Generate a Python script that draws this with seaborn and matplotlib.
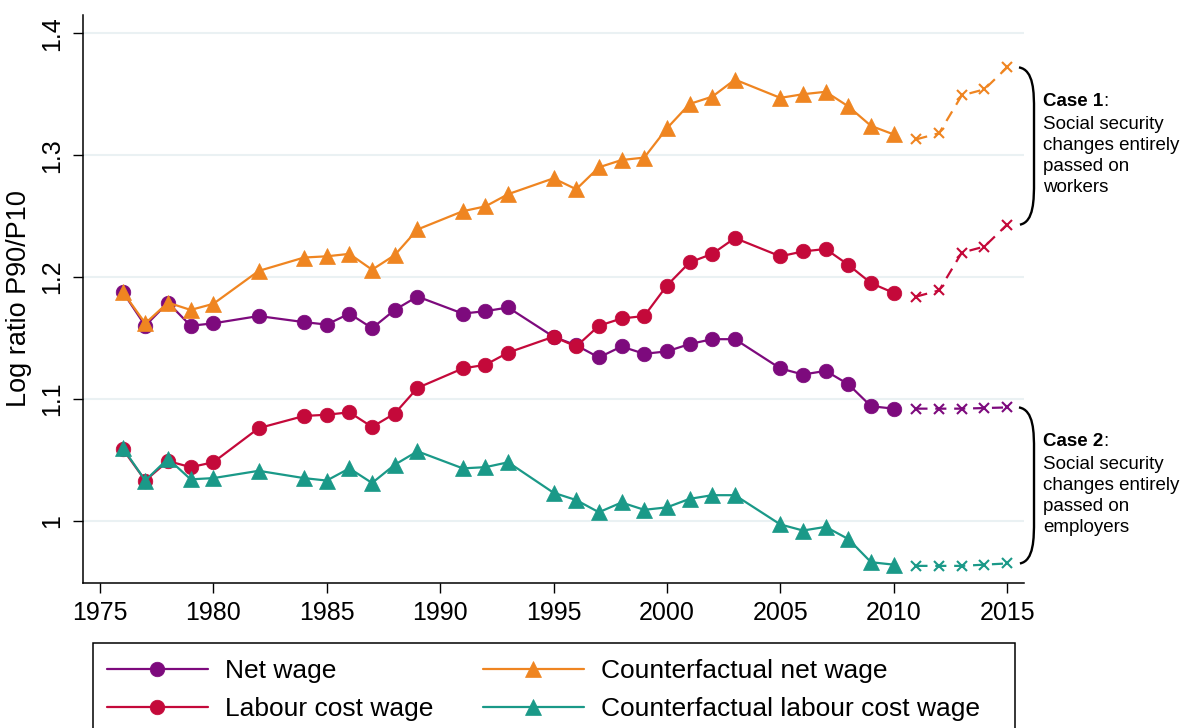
import numpy as np
import pandas as pd
import matplotlib
matplotlib.use('Agg')
import matplotlib.pyplot as plt
import seaborn as sns
from matplotlib.path import Path
from matplotlib.patches import PathPatch, Rectangle
from matplotlib.transforms import blended_transform_factory

# Observed years and projected years
years = [1976, 1977, 1978, 1979, 1980, 1982, 1984, 1985, 1986, 1987, 1988, 1989,
         1991, 1992, 1993, 1995, 1996, 1997, 1998, 1999, 2000, 2001, 2002, 2003,
         2005, 2006, 2007, 2008, 2009, 2010]
proj_years = [2011, 2012, 2013, 2014, 2015]

# Log ratio P90/P10
net_wage = [1.188, 1.160, 1.179, 1.160, 1.162, 1.168, 1.163, 1.161, 1.170, 1.158,
            1.173, 1.184, 1.170, 1.172, 1.175, 1.151, 1.144, 1.134, 1.143, 1.137,
            1.139, 1.145, 1.149, 1.149, 1.125, 1.120, 1.123, 1.112, 1.094, 1.092]
labour_cost = [1.059, 1.033, 1.049, 1.044, 1.048, 1.076, 1.086, 1.087, 1.089, 1.077,
               1.088, 1.109, 1.125, 1.128, 1.138, 1.151, 1.143, 1.160, 1.166, 1.168,
               1.193, 1.212, 1.219, 1.232, 1.217, 1.221, 1.223, 1.210, 1.195, 1.187]
cf_net = [1.188, 1.162, 1.179, 1.173, 1.178, 1.205, 1.216, 1.217, 1.219, 1.206,
          1.218, 1.239, 1.254, 1.258, 1.268, 1.281, 1.272, 1.290, 1.296, 1.298,
          1.322, 1.342, 1.348, 1.362, 1.347, 1.350, 1.352, 1.340, 1.324, 1.317]
cf_labour = [1.060, 1.033, 1.051, 1.034, 1.035, 1.041, 1.035, 1.033, 1.043, 1.031,
             1.046, 1.057, 1.043, 1.044, 1.048, 1.023, 1.017, 1.007, 1.015, 1.009,
             1.011, 1.018, 1.021, 1.021, 0.997, 0.992, 0.995, 0.985, 0.966, 0.964]

# Projections 2011-2015
net_proj = [1.092, 1.092, 1.092, 1.0925, 1.093]
labour_proj = [1.184, 1.189, 1.220, 1.225, 1.243]
cf_net_proj = [1.313, 1.318, 1.349, 1.354, 1.372]
cf_labour_proj = [0.963, 0.963, 0.963, 0.964, 0.965]

labels = ['Net wage', 'Labour cost wage', 'Counterfactual net wage',
          'Counterfactual labour cost wage']
colors = ['#7d0a7d', '#c4093a', '#ef8521', '#1a9988']
markers = ['o', 'o', '^', '^']

sns.set_style('white')
plt.rcParams['font.family'] = ['Liberation Sans', 'DejaVu Sans']
plt.rcParams['text.color'] = 'black'
plt.rcParams['axes.labelcolor'] = 'black'

fig = plt.figure(figsize=(11.91, 7.28), dpi=100)
ax = fig.add_axes([0.070, 0.1996, 0.7895, 0.7798])

series = [net_wage, labour_cost, cf_net, cf_labour]
projections = [net_proj, labour_proj, cf_net_proj, cf_labour_proj]

for i in range(4):
    sns.lineplot(x=years, y=series[i], ax=ax, color=colors[i], marker=markers[i],
                 markersize=10.5 if markers[i] == 'o' else 12,
                 markeredgecolor=colors[i], markeredgewidth=0.5,
                 linewidth=1.6, label=labels[i], zorder=3 + i, legend=False)
    sns.lineplot(x=proj_years, y=projections[i], ax=ax, color=colors[i], marker='x',
                 markersize=6.5, markeredgecolor=colors[i], markeredgewidth=1.5,
                 linewidth=1.6, linestyle=(0, (5, 3.5)), zorder=3 + i, legend=False)

ax.set_xlim(1974.27, 2015.73)
ax.set_ylim(0.9492, 1.415)
ax.set_xticks([1975, 1980, 1985, 1990, 1995, 2000, 2005, 2010, 2015])
ax.set_yticks([1.0, 1.1, 1.2, 1.3, 1.4])
ax.set_yticklabels(['1', '1.1', '1.2', '1.3', '1.4'], rotation=90, va='center')
ax.tick_params(axis='both', which='major', direction='out', length=7.5, width=1,
               labelsize=18, pad=6, left=True, bottom=True, colors='black')
ax.yaxis.grid(True, color='#eaf1f3', linewidth=1.5)
ax.xaxis.grid(False)
for side in ['top', 'right']:
    ax.spines[side].set_visible(False)
for side in ['left', 'bottom']:
    ax.spines[side].set_color('black')
    ax.spines[side].set_linewidth(1.1)
ax.set_ylabel('Log ratio P90/P10', fontsize=19.5, labelpad=6)
ax.set_xlabel('')

# Braces and annotations for the two cases
trans = blended_transform_factory(ax.transAxes, ax.transData)
note_font = ['Liberation Sans Narrow', 'Liberation Sans']
cases = [(cf_net_proj[-1], labour_proj[-1], 'Case 1', 'workers'),
         (net_proj[-1], cf_labour_proj[-1], 'Case 2', 'employers')]
for ytop, ybot, title, who in cases:
    x0, x1, d = 0.995, 1.011, 0.035
    verts = [(x0, ytop), (x1, ytop - 0.002), (x1, ytop - d * 0.6), (x1, ytop - d),
             (x1, ybot + d),
             (x1, ybot + d * 0.6), (x1, ybot + 0.002), (x0 + 0.001, ybot)]
    codes = [Path.MOVETO, Path.CURVE4, Path.CURVE4, Path.CURVE4, Path.LINETO,
             Path.CURVE4, Path.CURVE4, Path.CURVE4]
    ax.add_patch(PathPatch(Path(verts, codes), transform=trans, fill=False,
                           edgecolor='black', linewidth=1.7, clip_on=False))
    t = ax.text(1.0205, ytop - 0.021, title, transform=trans, fontsize=13.5,
                fontweight='bold', ha='left', va='top', family=note_font)
    ax.annotate(':', xy=(1, 0), xycoords=t, ha='left', va='bottom', fontsize=13.5,
                family=note_font)
    ax.annotate('Social security\nchanges entirely\npassed on\n' + who,
                xy=(0, 0), xycoords=t, xytext=(0, -4.5), textcoords='offset points',
                ha='left', va='top', fontsize=13.5, linespacing=1.3,
                family=note_font)

# Legend below the plot, frame drawn separately so it runs off the bottom
handles, labs = ax.get_legend_handles_labels()
order = [labs.index(l) for l in labels]
leg = fig.legend([handles[k] for k in order], labels, ncol=2, loc='upper left',
                 bbox_to_anchor=(0.0762, 0.1168), borderaxespad=0, fontsize=19,
                 frameon=False, handlelength=3.85, handletextpad=0.65,
                 labelspacing=0.55, borderpad=0.6, columnspacing=1.85)
fig.patches.append(Rectangle((93 / 1191, -0.05), 922 / 1191, 0.1668,
                             transform=fig.transFigure, fill=False,
                             edgecolor='black', linewidth=1.1))

plt.savefig('out.png', dpi=100)
plt.close()
